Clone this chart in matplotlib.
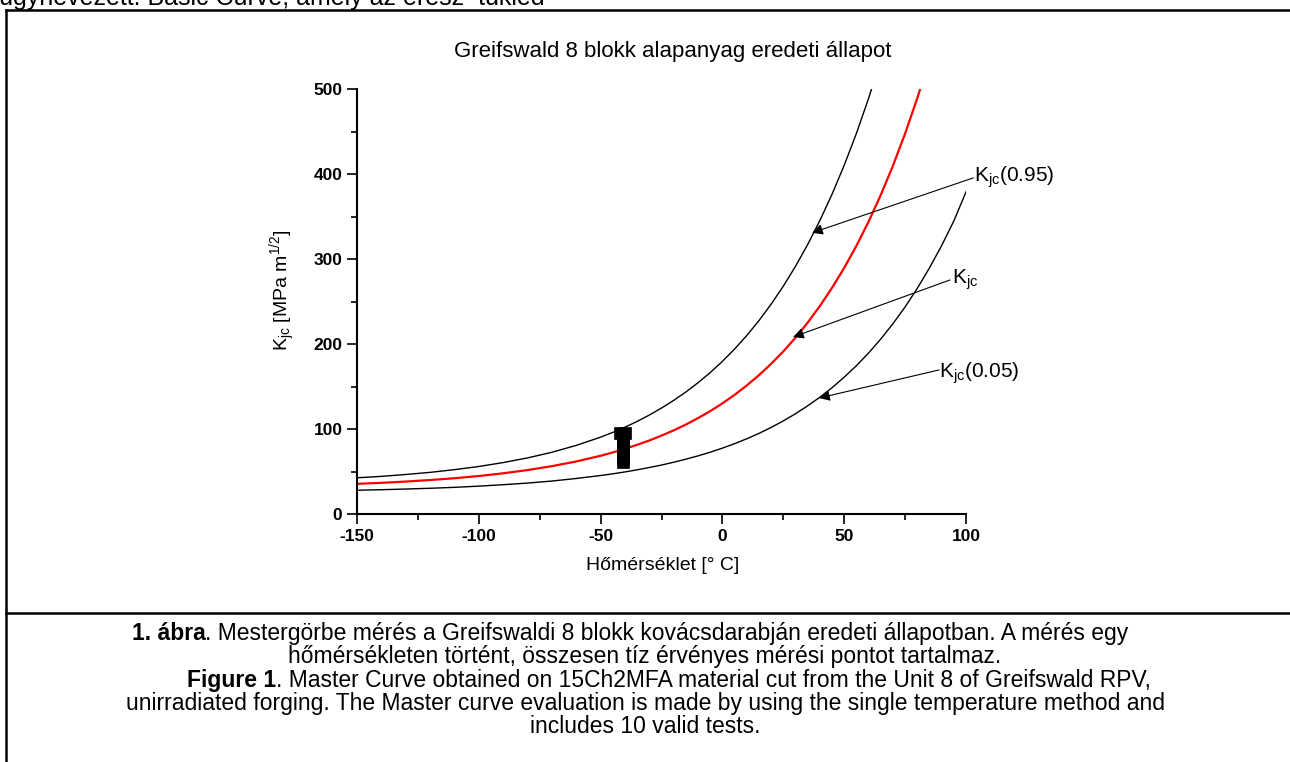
import matplotlib
matplotlib.use("Agg")
import matplotlib.pyplot as plt
from matplotlib.lines import Line2D

plt.rcParams['font.family'] = ['Liberation Sans', 'DejaVu Sans']
plt.rcParams['mathtext.fontset'] = 'custom'
plt.rcParams['mathtext.rm'] = 'Liberation Sans'
plt.rcParams['mathtext.it'] = 'Liberation Sans'
plt.rcParams['mathtext.bf'] = 'Liberation Sans:bold'
plt.rcParams['axes.unicode_minus'] = False

# ---------------- data ----------------
temps = [-150, -140, -130, -120, -110, -100, -90, -80, -70, -60, -50, -45, -40,
         -35, -30, -25, -20, -15, -10, -5, 0, 5, 10, 15, 20, 25, 30, 35, 40,
         45, 50, 55, 60, 65, 70, 75, 80, 85, 90, 95, 100]
k_median = [35.8, 37.0, 38.5, 40.3, 42.4, 45.0, 48.2, 52.0, 56.6, 62.1, 68.8,
            72.7, 77.0, 81.7, 86.8, 92.5, 98.7, 105.5, 113.1, 121.3, 130.4,
            140.4, 151.5, 163.5, 176.9, 191.5, 207.6, 225.3, 244.8, 266.2,
            289.7, 315.6, 344.0, 375.3, 409.7, 447.6, 489.2, 535.0, 585.3,
            640.6, 701.5]
k_upper = [42.9, 44.6, 46.8, 49.3, 52.5, 56.2, 60.8, 66.3, 72.9, 81.0, 90.7,
           96.3, 102.4, 109.2, 116.7, 124.9, 133.9, 143.8, 154.7, 166.6, 179.8,
           194.3, 210.2, 227.7, 247.0, 268.2, 291.5, 317.1, 345.3, 376.2,
           410.3, 447.7, 488.9, 534.2, 584.0, 638.8, 699.0, 765.2, 838.0,
           918.1, 1006.2]
k_lower = [28.3, 28.9, 29.7, 30.6, 31.7, 33.1, 34.8, 36.7, 39.1, 42.1, 45.6,
           47.6, 49.8, 52.3, 55.0, 57.9, 61.2, 64.8, 68.7, 73.0, 77.8, 83.0,
           88.8, 95.1, 102.1, 109.8, 118.2, 127.5, 137.6, 148.8, 161.2, 174.7,
           189.6, 206.0, 224.0, 243.8, 265.6, 289.6, 315.9, 344.8, 379.0]

test_temps = [-42, -40, -41, -41, -41, -41, -41, -41, -41, -41]
test_kjc = [95, 95, 92, 88, 84, 80, 75, 71, 66, 62]

xticks = [-150, -100, -50, 0, 50, 100]
xminor = [-125, -75, -25, 25, 75]
yticks = [0, 100, 200, 300, 400, 500]
yminor = [50, 150, 250, 350, 450]

title = "Greifswald 8 blokk alapanyag eredeti állapot"
xlabel = "Hőmérséklet [° C]"
ylabel = r"K$_{\rm jc}$ [MPa m$^{\rm 1/2}$]"

ann_labels = [r"K$_{\rm jc}$(0.95)", r"K$_{\rm jc}$", r"K$_{\rm jc}$(0.05)"]
ann_text_pos = [(103.3, 390.7), (94.1, 271.6), (89.0, 160.6)]
ann_arrow_start = [(103.0, 395.5), (93.4, 275.5), (88.9, 169.7)]
ann_arrow_end = [(36.8, 330.9), (29.0, 208.4), (39.7, 136.7)]

top_text = "ügynevezett: Basic Curve, amely az eresz  tűkled"
caption = [
    ("1. ábra", ". Mestergörbe mérés a Greifswaldi 8 blokk kovácsdarabján eredeti állapotban. A mérés egy", 630, 640),
    ("", "hőmérsékleten történt, összesen tíz érvényes mérési pontot tartalmaz.", 645, 663),
    ("Figure 1", ". Master Curve obtained on 15Ch2MFA material cut from the Unit 8 of Greifswald RPV,", 669, 687),
    ("", "unirradiated forging. The Master curve evaluation is made by using the single temperature method and", 645, 710),
    ("", "includes 10 valid tests.", 645, 733),
]

# ---------------- figure ----------------
W, H = 1290, 762
fig = plt.figure(figsize=(W / 100, H / 100), dpi=100)


def fx(px):
    return px / W


def fy(py):
    return 1 - py / H


ax = fig.add_axes([fx(357), fy(514.3), fx(966) - fx(357), fy(89) - fy(514.3)])
ax.plot(temps, k_upper, color='black', lw=1.0)
ax.plot(temps, k_lower, color='black', lw=1.0)
ax.plot(temps, k_median, color='red', lw=1.6)
ax.plot(test_temps, test_kjc, linestyle='none', marker='s', markersize=8.6,
        markerfacecolor='black', markeredgecolor='black', markeredgewidth=0.5)

ax.set_xlim(-150, 100)
ax.set_ylim(0, 500)
ax.set_xticks(xticks)
ax.set_yticks(yticks)
ax.set_xticks(xminor, minor=True)
ax.set_yticks(yminor, minor=True)
for s in ['top', 'right']:
    ax.spines[s].set_visible(False)
for s in ['left', 'bottom']:
    ax.spines[s].set_linewidth(1.5)
ax.tick_params(which='major', direction='out', length=7, width=1.2,
               labelsize=12.5, pad=3.5)
ax.tick_params(which='minor', direction='out', length=4.5, width=1.2)
for lab in ax.get_xticklabels() + ax.get_yticklabels():
    lab.set_fontweight('bold')

# axis labels as figure texts at measured positions
fig.text(fx(663), fy(565), xlabel, fontsize=14, ha='center', va='center')
fig.text(fx(283), fy(290), ylabel, fontsize=14, ha='center', va='center',
         rotation=90)

fig.text(fx(673), fy(52), title, fontsize=16, ha='center', va='center')

for lab, tp, st, en in zip(ann_labels, ann_text_pos, ann_arrow_start, ann_arrow_end):
    ax.annotate('', xy=en, xytext=st, annotation_clip=False,
                arrowprops=dict(arrowstyle='-|>', color='black', lw=0.8,
                                mutation_scale=16, shrinkA=0, shrinkB=0))
    ax.text(tp[0], tp[1], lab, fontsize=15, ha='left', va='baseline', clip_on=False)

# page frame
fig.add_artist(Line2D([fx(6), 1.01], [fy(10), fy(10)], color='black', lw=1.8))
fig.add_artist(Line2D([fx(6), fx(6)], [fy(10), -0.01], color='black', lw=1.8))
fig.add_artist(Line2D([fx(6), 1.01], [fy(613), fy(613)], color='black', lw=1.8))

# partially visible text above the frame (cut by the page edge, as in the source)
fig.text(fx(-1), fy(4.5), top_text, fontsize=18, ha='left', va='baseline')

# caption with bold prefixes
CAP_FS = 16.5
fig.canvas.draw()
renderer = fig.canvas.get_renderer()
for bold, rest, cx, base in caption:
    t_rest = fig.text(0, fy(base), rest, fontsize=CAP_FS, ha='left', va='baseline')
    w_rest = t_rest.get_window_extent(renderer).width
    w_bold = 0
    t_bold = None
    if bold:
        t_bold = fig.text(0, fy(base), bold, fontsize=CAP_FS, ha='left', va='baseline',
                          fontweight='bold')
        w_bold = t_bold.get_window_extent(renderer).width
    start = cx - (w_bold + w_rest) / 2
    if t_bold is not None:
        t_bold.set_x(fx(start))
    t_rest.set_x(fx(start + w_bold))

fig.savefig("out.png", dpi=100)
